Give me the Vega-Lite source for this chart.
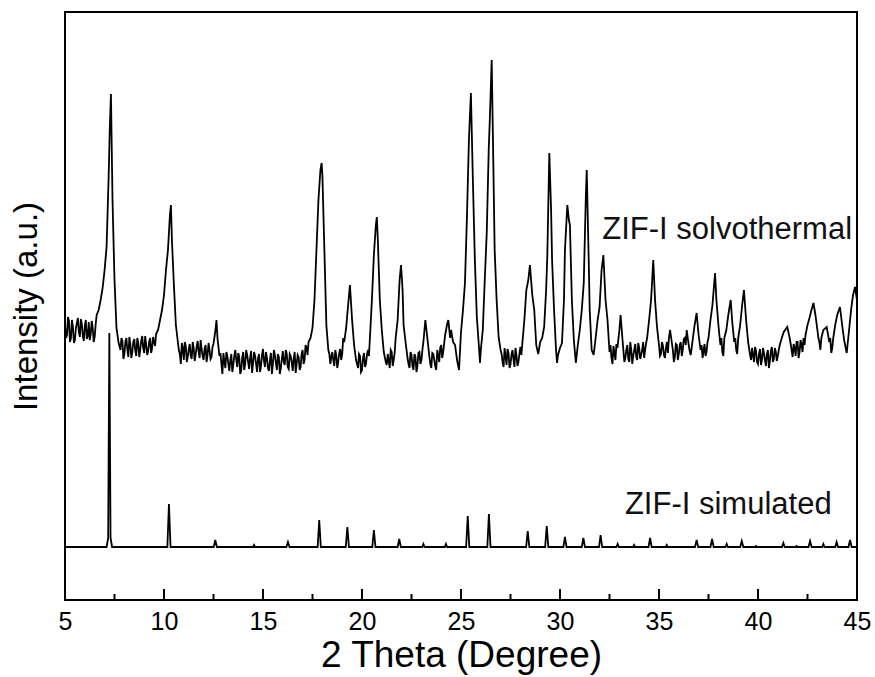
{
  "$schema": "https://vega.github.io/schema/vega-lite/v6.json",
  "width": 792,
  "height": 588,
  "autosize": {"type": "none"},
  "padding": {"left": 65, "top": 12, "right": 18, "bottom": 77},
  "background": "white",
  "config": {
    "font": "Liberation Sans",
    "view": {"stroke": "black", "strokeWidth": 2}
  },
  "datasets": {
    "xrd": [
      {"x":5.0,"y":276,"s":"e"},{"x":5.05,"y":262,"s":"e"},{"x":5.1,"y":265,"s":"e"},{"x":5.15,"y":283,"s":"e"},{"x":5.2,"y":279,"s":"e"},{"x":5.25,"y":258,"s":"e"},{"x":5.3,"y":262,"s":"e"},{"x":5.35,"y":280,"s":"e"},{"x":5.4,"y":273,"s":"e"},{"x":5.45,"y":257,"s":"e"},
      {"x":5.5,"y":260,"s":"e"},{"x":5.55,"y":272,"s":"e"},{"x":5.6,"y":277,"s":"e"},{"x":5.65,"y":282,"s":"e"},{"x":5.7,"y":268,"s":"e"},{"x":5.75,"y":263,"s":"e"},{"x":5.8,"y":281,"s":"e"},{"x":5.85,"y":276,"s":"e"},{"x":5.9,"y":264,"s":"e"},{"x":5.95,"y":259,"s":"e"},
      {"x":6.0,"y":274,"s":"e"},{"x":6.05,"y":280,"s":"e"},{"x":6.1,"y":261,"s":"e"},{"x":6.15,"y":264,"s":"e"},{"x":6.2,"y":278,"s":"e"},{"x":6.25,"y":260,"s":"e"},{"x":6.3,"y":266,"s":"e"},{"x":6.35,"y":279,"s":"e"},{"x":6.4,"y":272,"s":"e"},{"x":6.45,"y":258,"s":"e"},
      {"x":6.5,"y":263,"s":"e"},{"x":6.55,"y":276,"s":"e"},{"x":6.6,"y":285,"s":"e"},{"x":6.7,"y":290,"s":"e"},{"x":6.8,"y":300,"s":"e"},{"x":6.9,"y":312,"s":"e"},
      {"x":7.0,"y":330,"s":"e"},{"x":7.1,"y":353,"s":"e"},{"x":7.2,"y":420,"s":"e"},{"x":7.26,"y":470,"s":"e"},{"x":7.32,"y":506,"s":"e"},
      {"x":7.4,"y":400,"s":"e"},{"x":7.5,"y":320,"s":"e"},{"x":7.6,"y":272,"s":"e"},{"x":7.7,"y":258,"s":"e"},{"x":7.8,"y":250,"s":"e"},
      {"x":7.85,"y":262,"s":"e"},{"x":7.9,"y":259,"s":"e"},{"x":7.95,"y":241,"s":"e"},{"x":8.0,"y":246,"s":"e"},{"x":8.05,"y":258,"s":"e"},{"x":8.1,"y":262,"s":"e"},{"x":8.15,"y":250,"s":"e"},{"x":8.2,"y":243,"s":"e"},{"x":8.25,"y":263,"s":"e"},{"x":8.3,"y":256,"s":"e"},{"x":8.35,"y":242,"s":"e"},
      {"x":8.4,"y":248,"s":"e"},{"x":8.45,"y":258,"s":"e"},{"x":8.5,"y":261,"s":"e"},{"x":8.55,"y":249,"s":"e"},{"x":8.6,"y":244,"s":"e"},{"x":8.65,"y":262,"s":"e"},{"x":8.7,"y":257,"s":"e"},{"x":8.75,"y":243,"s":"e"},{"x":8.8,"y":250,"s":"e"},
      {"x":8.85,"y":259,"s":"e"},{"x":8.9,"y":264,"s":"e"},{"x":8.95,"y":252,"s":"e"},{"x":9.0,"y":247,"s":"e"},{"x":9.05,"y":264,"s":"e"},{"x":9.1,"y":255,"s":"e"},{"x":9.15,"y":245,"s":"e"},{"x":9.2,"y":249,"s":"e"},{"x":9.25,"y":258,"s":"e"},{"x":9.3,"y":262,"s":"e"},
      {"x":9.35,"y":247,"s":"e"},{"x":9.4,"y":252,"s":"e"},{"x":9.45,"y":263,"s":"e"},{"x":9.5,"y":258,"s":"e"},{"x":9.55,"y":254,"s":"e"},{"x":9.6,"y":266,"s":"e"},{"x":9.7,"y":270,"s":"e"},{"x":9.8,"y":280,"s":"e"},
      {"x":9.9,"y":290,"s":"e"},{"x":10.0,"y":305,"s":"e"},{"x":10.1,"y":330,"s":"e"},{"x":10.2,"y":350,"s":"e"},{"x":10.3,"y":385,"s":"e"},
      {"x":10.35,"y":395,"s":"e"},{"x":10.4,"y":360,"s":"e"},{"x":10.5,"y":315,"s":"e"},{"x":10.6,"y":275,"s":"e"},{"x":10.7,"y":258,"s":"e"},
      {"x":10.75,"y":250,"s":"e"},{"x":10.8,"y":246,"s":"e"},{"x":10.85,"y":236,"s":"e"},{"x":10.9,"y":257,"s":"e"},{"x":10.95,"y":252,"s":"e"},{"x":11.0,"y":240,"s":"e"},{"x":11.05,"y":258,"s":"e"},{"x":11.1,"y":254,"s":"e"},{"x":11.15,"y":238,"s":"e"},{"x":11.2,"y":243,"s":"e"},
      {"x":11.25,"y":251,"s":"e"},{"x":11.3,"y":256,"s":"e"},{"x":11.35,"y":244,"s":"e"},{"x":11.4,"y":241,"s":"e"},{"x":11.45,"y":258,"s":"e"},{"x":11.5,"y":252,"s":"e"},{"x":11.55,"y":239,"s":"e"},{"x":11.6,"y":246,"s":"e"},{"x":11.65,"y":253,"s":"e"},{"x":11.7,"y":259,"s":"e"},
      {"x":11.75,"y":248,"s":"e"},{"x":11.8,"y":242,"s":"e"},{"x":11.85,"y":260,"s":"e"},{"x":11.9,"y":251,"s":"e"},{"x":11.95,"y":244,"s":"e"},{"x":12.0,"y":240,"s":"e"},{"x":12.05,"y":251,"s":"e"},{"x":12.1,"y":255,"s":"e"},{"x":12.15,"y":238,"s":"e"},{"x":12.2,"y":245,"s":"e"},
      {"x":12.25,"y":257,"s":"e"},{"x":12.3,"y":250,"s":"e"},{"x":12.35,"y":241,"s":"e"},{"x":12.4,"y":243,"s":"e"},{"x":12.45,"y":253,"s":"e"},{"x":12.5,"y":256,"s":"e"},{"x":12.6,"y":270,"s":"e"},{"x":12.65,"y":280,"s":"e"},
      {"x":12.7,"y":262,"s":"e"},{"x":12.8,"y":244,"s":"e"},{"x":12.85,"y":247,"s":"e"},{"x":12.9,"y":236,"s":"e"},{"x":12.95,"y":226,"s":"e"},{"x":13.0,"y":247,"s":"e"},{"x":13.05,"y":238,"s":"e"},{"x":13.1,"y":232,"s":"e"},
      {"x":13.15,"y":248,"s":"e"},{"x":13.2,"y":244,"s":"e"},{"x":13.25,"y":236,"s":"e"},{"x":13.3,"y":229,"s":"e"},{"x":13.35,"y":240,"s":"e"},{"x":13.4,"y":246,"s":"e"},{"x":13.45,"y":228,"s":"e"},{"x":13.5,"y":235,"s":"e"},{"x":13.55,"y":244,"s":"e"},{"x":13.6,"y":250,"s":"e"},
      {"x":13.65,"y":240,"s":"e"},{"x":13.7,"y":233,"s":"e"},{"x":13.75,"y":247,"s":"e"},{"x":13.8,"y":243,"s":"e"},{"x":13.85,"y":226,"s":"e"},{"x":13.9,"y":230,"s":"e"},{"x":13.95,"y":242,"s":"e"},{"x":14.0,"y":248,"s":"e"},{"x":14.05,"y":230,"s":"e"},{"x":14.1,"y":236,"s":"e"},
      {"x":14.15,"y":250,"s":"e"},{"x":14.2,"y":245,"s":"e"},{"x":14.25,"y":238,"s":"e"},{"x":14.3,"y":231,"s":"e"},{"x":14.35,"y":242,"s":"e"},{"x":14.4,"y":249,"s":"e"},{"x":14.45,"y":227,"s":"e"},{"x":14.5,"y":237,"s":"e"},{"x":14.55,"y":248,"s":"e"},{"x":14.6,"y":244,"s":"e"},
      {"x":14.65,"y":236,"s":"e"},{"x":14.7,"y":228,"s":"e"},{"x":14.75,"y":242,"s":"e"},{"x":14.8,"y":246,"s":"e"},{"x":14.85,"y":228,"s":"e"},{"x":14.9,"y":234,"s":"e"},{"x":14.95,"y":245,"s":"e"},{"x":15.0,"y":251,"s":"e"},{"x":15.05,"y":239,"s":"e"},{"x":15.1,"y":233,"s":"e"},
      {"x":15.15,"y":248,"s":"e"},{"x":15.2,"y":242,"s":"e"},{"x":15.25,"y":232,"s":"e"},{"x":15.3,"y":229,"s":"e"},{"x":15.35,"y":240,"s":"e"},{"x":15.4,"y":247,"s":"e"},{"x":15.45,"y":226,"s":"e"},{"x":15.5,"y":236,"s":"e"},{"x":15.55,"y":250,"s":"e"},{"x":15.6,"y":245,"s":"e"},
      {"x":15.65,"y":237,"s":"e"},{"x":15.7,"y":230,"s":"e"},{"x":15.75,"y":246,"s":"e"},{"x":15.8,"y":243,"s":"e"},{"x":15.85,"y":226,"s":"e"},{"x":15.9,"y":232,"s":"e"},{"x":15.95,"y":241,"s":"e"},{"x":16.0,"y":249,"s":"e"},{"x":16.05,"y":238,"s":"e"},{"x":16.1,"y":235,"s":"e"},
      {"x":16.15,"y":250,"s":"e"},{"x":16.2,"y":246,"s":"e"},{"x":16.25,"y":233,"s":"e"},{"x":16.3,"y":231,"s":"e"},{"x":16.35,"y":246,"s":"e"},{"x":16.4,"y":244,"s":"e"},{"x":16.45,"y":238,"s":"e"},{"x":16.5,"y":229,"s":"e"},{"x":16.55,"y":241,"s":"e"},{"x":16.6,"y":248,"s":"e"},
      {"x":16.65,"y":227,"s":"e"},{"x":16.7,"y":236,"s":"e"},{"x":16.75,"y":245,"s":"e"},{"x":16.8,"y":243,"s":"e"},{"x":16.85,"y":230,"s":"e"},{"x":16.9,"y":233,"s":"e"},{"x":16.95,"y":246,"s":"e"},{"x":17.0,"y":250,"s":"e"},{"x":17.05,"y":236,"s":"e"},{"x":17.1,"y":240,"s":"e"},
      {"x":17.15,"y":255,"s":"e"},{"x":17.2,"y":252,"s":"e"},{"x":17.25,"y":245,"s":"e"},{"x":17.3,"y":258,"s":"e"},{"x":17.4,"y":262,"s":"e"},{"x":17.5,"y":272,"s":"e"},{"x":17.6,"y":300,"s":"e"},
      {"x":17.7,"y":350,"s":"e"},{"x":17.8,"y":400,"s":"e"},{"x":17.9,"y":430,"s":"e"},{"x":17.96,"y":437,"s":"e"},{"x":18.0,"y":425,"s":"e"},
      {"x":18.1,"y":350,"s":"e"},{"x":18.2,"y":275,"s":"e"},{"x":18.3,"y":250,"s":"e"},{"x":18.35,"y":246,"s":"e"},{"x":18.4,"y":236,"s":"e"},{"x":18.45,"y":243,"s":"e"},{"x":18.5,"y":248,"s":"e"},{"x":18.55,"y":240,"s":"e"},
      {"x":18.6,"y":234,"s":"e"},{"x":18.65,"y":250,"s":"e"},{"x":18.7,"y":245,"s":"e"},{"x":18.75,"y":232,"s":"e"},{"x":18.8,"y":238,"s":"e"},{"x":18.85,"y":247,"s":"e"},{"x":18.9,"y":251,"s":"e"},{"x":18.95,"y":240,"s":"e"},{"x":19.0,"y":246,"s":"e"},{"x":19.05,"y":262,"s":"e"},
      {"x":19.1,"y":258,"s":"e"},{"x":19.2,"y":272,"s":"e"},{"x":19.3,"y":295,"s":"e"},{"x":19.39,"y":315,"s":"e"},{"x":19.5,"y":280,"s":"e"},
      {"x":19.6,"y":255,"s":"e"},{"x":19.7,"y":240,"s":"e"},{"x":19.75,"y":236,"s":"e"},{"x":19.8,"y":232,"s":"e"},{"x":19.85,"y":246,"s":"e"},{"x":19.9,"y":244,"s":"e"},{"x":19.95,"y":228,"s":"e"},{"x":20.0,"y":230,"s":"e"},
      {"x":20.05,"y":242,"s":"e"},{"x":20.1,"y":247,"s":"e"},{"x":20.15,"y":233,"s":"e"},{"x":20.2,"y":236,"s":"e"},{"x":20.25,"y":245,"s":"e"},{"x":20.3,"y":250,"s":"e"},{"x":20.35,"y":244,"s":"e"},{"x":20.4,"y":262,"s":"e"},{"x":20.5,"y":300,"s":"e"},
      {"x":20.6,"y":345,"s":"e"},{"x":20.7,"y":375,"s":"e"},{"x":20.75,"y":383,"s":"e"},{"x":20.8,"y":360,"s":"e"},{"x":20.9,"y":300,"s":"e"},
      {"x":21.0,"y":270,"s":"e"},{"x":21.1,"y":248,"s":"e"},{"x":21.2,"y":238,"s":"e"},{"x":21.25,"y":235,"s":"e"},{"x":21.3,"y":246,"s":"e"},{"x":21.35,"y":239,"s":"e"},{"x":21.4,"y":232,"s":"e"},{"x":21.45,"y":250,"s":"e"},
      {"x":21.5,"y":248,"s":"e"},{"x":21.55,"y":234,"s":"e"},{"x":21.6,"y":240,"s":"e"},{"x":21.65,"y":247,"s":"e"},{"x":21.7,"y":262,"s":"e"},{"x":21.8,"y":280,"s":"e"},{"x":21.9,"y":320,"s":"e"},
      {"x":21.97,"y":335,"s":"e"},{"x":22.05,"y":310,"s":"e"},{"x":22.1,"y":275,"s":"e"},{"x":22.2,"y":258,"s":"e"},{"x":22.3,"y":242,"s":"e"},{"x":22.35,"y":236,"s":"e"},
      {"x":22.4,"y":232,"s":"e"},{"x":22.45,"y":248,"s":"e"},{"x":22.5,"y":245,"s":"e"},{"x":22.55,"y":234,"s":"e"},{"x":22.6,"y":230,"s":"e"},{"x":22.65,"y":246,"s":"e"},{"x":22.7,"y":243,"s":"e"},{"x":22.75,"y":228,"s":"e"},{"x":22.8,"y":234,"s":"e"},
      {"x":22.85,"y":247,"s":"e"},{"x":22.9,"y":248,"s":"e"},{"x":22.95,"y":236,"s":"e"},{"x":23.0,"y":240,"s":"e"},{"x":23.05,"y":250,"s":"e"},{"x":23.1,"y":258,"s":"e"},{"x":23.2,"y":280,"s":"e"},{"x":23.3,"y":262,"s":"e"},
      {"x":23.4,"y":244,"s":"e"},{"x":23.45,"y":236,"s":"e"},{"x":23.5,"y":232,"s":"e"},{"x":23.55,"y":247,"s":"e"},{"x":23.6,"y":246,"s":"e"},{"x":23.65,"y":240,"s":"e"},{"x":23.7,"y":234,"s":"e"},{"x":23.75,"y":230,"s":"e"},{"x":23.8,"y":250,"s":"e"},
      {"x":23.85,"y":245,"s":"e"},{"x":23.9,"y":238,"s":"e"},{"x":23.95,"y":252,"s":"e"},{"x":24.0,"y":255,"s":"e"},{"x":24.05,"y":242,"s":"e"},{"x":24.1,"y":248,"s":"e"},{"x":24.2,"y":265,"s":"e"},{"x":24.3,"y":276,"s":"e"},
      {"x":24.36,"y":280,"s":"e"},{"x":24.45,"y":262,"s":"e"},{"x":24.5,"y":270,"s":"e"},{"x":24.6,"y":258,"s":"e"},{"x":24.7,"y":255,"s":"e"},
      {"x":24.8,"y":240,"s":"e"},{"x":24.9,"y":230,"s":"e"},{"x":25.0,"y":268,"s":"e"},{"x":25.1,"y":290,"s":"e"},{"x":25.2,"y":317,"s":"e"},
      {"x":25.3,"y":383,"s":"e"},{"x":25.4,"y":460,"s":"e"},{"x":25.5,"y":507,"s":"e"},{"x":25.6,"y":420,"s":"e"},{"x":25.7,"y":340,"s":"e"},
      {"x":25.8,"y":283,"s":"e"},{"x":25.9,"y":255,"s":"e"},{"x":25.96,"y":237,"s":"e"},{"x":26.0,"y":250,"s":"e"},{"x":26.1,"y":270,"s":"e"},
      {"x":26.2,"y":320,"s":"e"},{"x":26.3,"y":367,"s":"e"},{"x":26.4,"y":450,"s":"e"},{"x":26.46,"y":483,"s":"e"},{"x":26.55,"y":540,"s":"e"},
      {"x":26.63,"y":440,"s":"e"},{"x":26.7,"y":350,"s":"e"},{"x":26.8,"y":300,"s":"e"},{"x":26.9,"y":263,"s":"e"},{"x":27.0,"y":250,"s":"e"},
      {"x":27.05,"y":246,"s":"e"},{"x":27.1,"y":238,"s":"e"},{"x":27.15,"y":233,"s":"e"},{"x":27.2,"y":252,"s":"e"},{"x":27.25,"y":244,"s":"e"},{"x":27.3,"y":235,"s":"e"},{"x":27.35,"y":251,"s":"e"},{"x":27.4,"y":247,"s":"e"},{"x":27.45,"y":232,"s":"e"},{"x":27.5,"y":236,"s":"e"},
      {"x":27.55,"y":245,"s":"e"},{"x":27.6,"y":250,"s":"e"},{"x":27.65,"y":241,"s":"e"},{"x":27.7,"y":233,"s":"e"},{"x":27.75,"y":252,"s":"e"},{"x":27.8,"y":245,"s":"e"},{"x":27.85,"y":234,"s":"e"},{"x":27.9,"y":238,"s":"e"},{"x":27.95,"y":246,"s":"e"},{"x":28.0,"y":253,"s":"e"},
      {"x":28.05,"y":245,"s":"e"},{"x":28.1,"y":257,"s":"e"},{"x":28.2,"y":280,"s":"e"},{"x":28.3,"y":310,"s":"e"},{"x":28.4,"y":320,"s":"e"},{"x":28.48,"y":335,"s":"e"},
      {"x":28.6,"y":305,"s":"e"},{"x":28.7,"y":290,"s":"e"},{"x":28.8,"y":255,"s":"e"},{"x":28.9,"y":246,"s":"e"},{"x":29.0,"y":258,"s":"e"},
      {"x":29.1,"y":262,"s":"e"},{"x":29.2,"y":273,"s":"e"},{"x":29.3,"y":310,"s":"e"},{"x":29.36,"y":345,"s":"e"},{"x":29.46,"y":447,"s":"e"},
      {"x":29.55,"y":390,"s":"e"},{"x":29.6,"y":340,"s":"e"},{"x":29.7,"y":290,"s":"e"},{"x":29.8,"y":250,"s":"e"},{"x":29.85,"y":237,"s":"e"},
      {"x":29.9,"y":245,"s":"e"},{"x":30.0,"y":252,"s":"e"},{"x":30.1,"y":257,"s":"e"},{"x":30.2,"y":300,"s":"e"},{"x":30.25,"y":350,"s":"e"},
      {"x":30.37,"y":395,"s":"e"},{"x":30.45,"y":380,"s":"e"},{"x":30.5,"y":375,"s":"e"},{"x":30.6,"y":300,"s":"e"},{"x":30.7,"y":260,"s":"e"},
      {"x":30.8,"y":237,"s":"e"},{"x":30.9,"y":255,"s":"e"},{"x":31.0,"y":270,"s":"e"},{"x":31.1,"y":290,"s":"e"},{"x":31.2,"y":317,"s":"e"},
      {"x":31.3,"y":400,"s":"e"},{"x":31.35,"y":430,"s":"e"},{"x":31.45,"y":340,"s":"e"},{"x":31.5,"y":290,"s":"e"},{"x":31.55,"y":270,"s":"e"},
      {"x":31.6,"y":250,"s":"e"},{"x":31.7,"y":245,"s":"e"},{"x":31.8,"y":262,"s":"e"},{"x":31.9,"y":280,"s":"e"},{"x":32.0,"y":293,"s":"e"},
      {"x":32.1,"y":330,"s":"e"},{"x":32.19,"y":345,"s":"e"},{"x":32.3,"y":300,"s":"e"},{"x":32.4,"y":280,"s":"e"},{"x":32.5,"y":248,"s":"e"},
      {"x":32.55,"y":255,"s":"e"},{"x":32.6,"y":242,"s":"e"},{"x":32.65,"y":236,"s":"e"},{"x":32.7,"y":254,"s":"e"},{"x":32.75,"y":247,"s":"e"},{"x":32.8,"y":240,"s":"e"},{"x":32.85,"y":256,"s":"e"},{"x":32.9,"y":252,"s":"e"},{"x":33.0,"y":270,"s":"e"},
      {"x":33.06,"y":285,"s":"e"},{"x":33.15,"y":262,"s":"e"},{"x":33.2,"y":250,"s":"e"},{"x":33.25,"y":238,"s":"e"},{"x":33.3,"y":242,"s":"e"},{"x":33.35,"y":250,"s":"e"},{"x":33.4,"y":255,"s":"e"},{"x":33.45,"y":241,"s":"e"},
      {"x":33.5,"y":238,"s":"e"},{"x":33.55,"y":258,"s":"e"},{"x":33.6,"y":250,"s":"e"},{"x":33.65,"y":236,"s":"e"},{"x":33.7,"y":244,"s":"e"},{"x":33.75,"y":250,"s":"e"},{"x":33.8,"y":256,"s":"e"},{"x":33.85,"y":243,"s":"e"},{"x":33.9,"y":240,"s":"e"},
      {"x":33.95,"y":257,"s":"e"},{"x":34.0,"y":252,"s":"e"},{"x":34.05,"y":241,"s":"e"},{"x":34.1,"y":245,"s":"e"},{"x":34.15,"y":250,"s":"e"},{"x":34.2,"y":258,"s":"e"},{"x":34.25,"y":242,"s":"e"},{"x":34.3,"y":250,"s":"e"},{"x":34.35,"y":257,"s":"e"},{"x":34.4,"y":262,"s":"e"},
      {"x":34.5,"y":280,"s":"e"},{"x":34.6,"y":300,"s":"e"},{"x":34.71,"y":340,"s":"e"},{"x":34.8,"y":300,"s":"e"},{"x":34.9,"y":273,"s":"e"},
      {"x":35.0,"y":255,"s":"e"},{"x":35.05,"y":244,"s":"e"},{"x":35.1,"y":246,"s":"e"},{"x":35.15,"y":258,"s":"e"},{"x":35.2,"y":254,"s":"e"},{"x":35.25,"y":245,"s":"e"},{"x":35.3,"y":242,"s":"e"},{"x":35.35,"y":252,"s":"e"},{"x":35.4,"y":258,"s":"e"},{"x":35.45,"y":247,"s":"e"},
      {"x":35.5,"y":262,"s":"e"},{"x":35.56,"y":270,"s":"e"},{"x":35.65,"y":257,"s":"e"},{"x":35.7,"y":250,"s":"e"},{"x":35.75,"y":238,"s":"e"},{"x":35.8,"y":243,"s":"e"},{"x":35.85,"y":256,"s":"e"},{"x":35.9,"y":255,"s":"e"},{"x":35.95,"y":240,"s":"e"},
      {"x":36.0,"y":246,"s":"e"},{"x":36.05,"y":255,"s":"e"},{"x":36.1,"y":258,"s":"e"},{"x":36.15,"y":244,"s":"e"},{"x":36.2,"y":250,"s":"e"},{"x":36.25,"y":261,"s":"e"},{"x":36.3,"y":262,"s":"e"},{"x":36.35,"y":255,"s":"e"},{"x":36.4,"y":270,"s":"e"},
      {"x":36.5,"y":255,"s":"e"},{"x":36.55,"y":249,"s":"e"},{"x":36.6,"y":245,"s":"e"},{"x":36.65,"y":252,"s":"e"},{"x":36.7,"y":260,"s":"e"},{"x":36.8,"y":275,"s":"e"},{"x":36.9,"y":287,"s":"e"},
      {"x":37.0,"y":265,"s":"e"},{"x":37.1,"y":250,"s":"e"},{"x":37.15,"y":255,"s":"e"},{"x":37.2,"y":242,"s":"e"},{"x":37.25,"y":249,"s":"e"},{"x":37.3,"y":256,"s":"e"},{"x":37.35,"y":244,"s":"e"},{"x":37.4,"y":248,"s":"e"},{"x":37.45,"y":258,"s":"e"},
      {"x":37.5,"y":262,"s":"e"},{"x":37.6,"y":280,"s":"e"},{"x":37.7,"y":295,"s":"e"},{"x":37.83,"y":327,"s":"e"},{"x":37.9,"y":300,"s":"e"},
      {"x":38.0,"y":275,"s":"e"},{"x":38.1,"y":255,"s":"e"},{"x":38.15,"y":262,"s":"e"},{"x":38.2,"y":248,"s":"e"},{"x":38.25,"y":244,"s":"e"},{"x":38.3,"y":262,"s":"e"},{"x":38.4,"y":270,"s":"e"},
      {"x":38.5,"y":285,"s":"e"},{"x":38.62,"y":300,"s":"e"},{"x":38.7,"y":278,"s":"e"},{"x":38.8,"y":258,"s":"e"},{"x":38.85,"y":262,"s":"e"},{"x":38.9,"y":250,"s":"e"},{"x":38.95,"y":246,"s":"e"},
      {"x":39.0,"y":262,"s":"e"},{"x":39.1,"y":275,"s":"e"},{"x":39.2,"y":295,"s":"e"},{"x":39.29,"y":310,"s":"e"},{"x":39.4,"y":280,"s":"e"},
      {"x":39.5,"y":258,"s":"e"},{"x":39.6,"y":245,"s":"e"},{"x":39.65,"y":240,"s":"e"},{"x":39.7,"y":252,"s":"e"},{"x":39.75,"y":245,"s":"e"},{"x":39.8,"y":238,"s":"e"},{"x":39.85,"y":253,"s":"e"},{"x":39.9,"y":249,"s":"e"},{"x":39.95,"y":238,"s":"e"},
      {"x":40.0,"y":236,"s":"e"},{"x":40.05,"y":246,"s":"e"},{"x":40.1,"y":251,"s":"e"},{"x":40.15,"y":235,"s":"e"},{"x":40.2,"y":240,"s":"e"},{"x":40.25,"y":252,"s":"e"},{"x":40.3,"y":247,"s":"e"},{"x":40.35,"y":240,"s":"e"},{"x":40.4,"y":234,"s":"e"},
      {"x":40.45,"y":246,"s":"e"},{"x":40.5,"y":250,"s":"e"},{"x":40.55,"y":232,"s":"e"},{"x":40.6,"y":239,"s":"e"},{"x":40.65,"y":249,"s":"e"},{"x":40.7,"y":253,"s":"e"},{"x":40.75,"y":238,"s":"e"},{"x":40.8,"y":241,"s":"e"},{"x":40.85,"y":252,"s":"e"},{"x":40.9,"y":248,"s":"e"},
      {"x":40.95,"y":239,"s":"e"},{"x":41.0,"y":244,"s":"e"},{"x":41.05,"y":250,"s":"e"},{"x":41.1,"y":255,"s":"e"},{"x":41.2,"y":262,"s":"e"},{"x":41.3,"y":268,"s":"e"},{"x":41.48,"y":273,"s":"e"},
      {"x":41.6,"y":262,"s":"e"},{"x":41.7,"y":250,"s":"e"},{"x":41.75,"y":243,"s":"e"},{"x":41.8,"y":256,"s":"e"},{"x":41.85,"y":252,"s":"e"},{"x":41.9,"y":244,"s":"e"},{"x":41.95,"y":258,"s":"e"},{"x":42.0,"y":258,"s":"e"},{"x":42.05,"y":242,"s":"e"},
      {"x":42.1,"y":248,"s":"e"},{"x":42.15,"y":260,"s":"e"},{"x":42.2,"y":255,"s":"e"},{"x":42.25,"y":248,"s":"e"},{"x":42.3,"y":262,"s":"e"},{"x":42.35,"y":255,"s":"e"},{"x":42.4,"y":265,"s":"e"},{"x":42.5,"y":275,"s":"e"},
      {"x":42.6,"y":282,"s":"e"},{"x":42.7,"y":290,"s":"e"},{"x":42.8,"y":297,"s":"e"},{"x":42.9,"y":285,"s":"e"},{"x":43.0,"y":270,"s":"e"},{"x":43.05,"y":262,"s":"e"},
      {"x":43.1,"y":258,"s":"e"},{"x":43.15,"y":250,"s":"e"},{"x":43.2,"y":262,"s":"e"},{"x":43.3,"y":270,"s":"e"},{"x":43.47,"y":273,"s":"e"},{"x":43.6,"y":258,"s":"e"},{"x":43.65,"y":262,"s":"e"},
      {"x":43.7,"y":247,"s":"e"},{"x":43.75,"y":252,"s":"e"},{"x":43.8,"y":262,"s":"e"},{"x":43.9,"y":275,"s":"e"},{"x":44.0,"y":285,"s":"e"},{"x":44.14,"y":293,"s":"e"},
      {"x":44.25,"y":275,"s":"e"},{"x":44.35,"y":260,"s":"e"},{"x":44.48,"y":247,"s":"e"},{"x":44.6,"y":270,"s":"e"},{"x":44.7,"y":290,"s":"e"},
      {"x":44.8,"y":305,"s":"e"},{"x":44.9,"y":313,"s":"e"},{"x":45.0,"y":300,"s":"e"},

      {"x":5.0,"y":53,"s":"c"},{"x":7.1,"y":53,"s":"c"},{"x":7.18,"y":62,"s":"c"},{"x":7.24,"y":267,"s":"c"},{"x":7.3,"y":62,"s":"c"},{"x":7.38,"y":53,"s":"c"},
      {"x":10.17,"y":53,"s":"c"},{"x":10.25,"y":96,"s":"c"},{"x":10.33,"y":53,"s":"c"},
      {"x":12.51,"y":53,"s":"c"},{"x":12.59,"y":60,"s":"c"},{"x":12.67,"y":53,"s":"c"},
      {"x":14.5,"y":53,"s":"c"},{"x":14.55,"y":55,"s":"c"},{"x":14.6,"y":53,"s":"c"},
      {"x":16.18,"y":53,"s":"c"},{"x":16.26,"y":58,"s":"c"},{"x":16.34,"y":53,"s":"c"},
      {"x":17.76,"y":53,"s":"c"},{"x":17.84,"y":80,"s":"c"},{"x":17.92,"y":53,"s":"c"},
      {"x":19.18,"y":53,"s":"c"},{"x":19.26,"y":73,"s":"c"},{"x":19.34,"y":53,"s":"c"},
      {"x":20.52,"y":53,"s":"c"},{"x":20.6,"y":70,"s":"c"},{"x":20.68,"y":53,"s":"c"},
      {"x":21.8,"y":53,"s":"c"},{"x":21.88,"y":61,"s":"c"},{"x":21.96,"y":53,"s":"c"},
      {"x":23.04,"y":53,"s":"c"},{"x":23.1,"y":56,"s":"c"},{"x":23.16,"y":53,"s":"c"},
      {"x":24.18,"y":53,"s":"c"},{"x":24.24,"y":56,"s":"c"},{"x":24.3,"y":53,"s":"c"},
      {"x":25.26,"y":53,"s":"c"},{"x":25.34,"y":84,"s":"c"},{"x":25.42,"y":53,"s":"c"},
      {"x":26.33,"y":53,"s":"c"},{"x":26.41,"y":86,"s":"c"},{"x":26.49,"y":53,"s":"c"},
      {"x":28.29,"y":53,"s":"c"},{"x":28.37,"y":69,"s":"c"},{"x":28.45,"y":53,"s":"c"},
      {"x":29.25,"y":53,"s":"c"},{"x":29.33,"y":74,"s":"c"},{"x":29.41,"y":53,"s":"c"},
      {"x":30.17,"y":53,"s":"c"},{"x":30.25,"y":63,"s":"c"},{"x":30.33,"y":53,"s":"c"},
      {"x":31.1,"y":53,"s":"c"},{"x":31.18,"y":62,"s":"c"},{"x":31.26,"y":53,"s":"c"},
      {"x":31.97,"y":53,"s":"c"},{"x":32.05,"y":65,"s":"c"},{"x":32.13,"y":53,"s":"c"},
      {"x":32.85,"y":53,"s":"c"},{"x":32.91,"y":56,"s":"c"},{"x":32.97,"y":53,"s":"c"},
      {"x":33.69,"y":53,"s":"c"},{"x":33.74,"y":55,"s":"c"},{"x":33.79,"y":53,"s":"c"},
      {"x":34.47,"y":53,"s":"c"},{"x":34.55,"y":62,"s":"c"},{"x":34.63,"y":53,"s":"c"},
      {"x":35.34,"y":53,"s":"c"},{"x":35.39,"y":55,"s":"c"},{"x":35.44,"y":53,"s":"c"},
      {"x":36.82,"y":53,"s":"c"},{"x":36.9,"y":60,"s":"c"},{"x":36.98,"y":53,"s":"c"},
      {"x":37.6,"y":53,"s":"c"},{"x":37.68,"y":61,"s":"c"},{"x":37.76,"y":53,"s":"c"},
      {"x":38.36,"y":53,"s":"c"},{"x":38.42,"y":56,"s":"c"},{"x":38.48,"y":53,"s":"c"},
      {"x":39.1,"y":53,"s":"c"},{"x":39.18,"y":59,"s":"c"},{"x":39.26,"y":53,"s":"c"},
      {"x":39.85,"y":53,"s":"c"},{"x":39.9,"y":54,"s":"c"},{"x":39.95,"y":53,"s":"c"},
      {"x":41.21,"y":53,"s":"c"},{"x":41.28,"y":57,"s":"c"},{"x":41.35,"y":53,"s":"c"},
      {"x":41.9,"y":53,"s":"c"},{"x":41.95,"y":54,"s":"c"},{"x":42.0,"y":53,"s":"c"},
      {"x":42.55,"y":53,"s":"c"},{"x":42.63,"y":59,"s":"c"},{"x":42.71,"y":53,"s":"c"},
      {"x":43.24,"y":53,"s":"c"},{"x":43.3,"y":56,"s":"c"},{"x":43.36,"y":53,"s":"c"},
      {"x":43.9,"y":53,"s":"c"},{"x":43.97,"y":58,"s":"c"},{"x":44.04,"y":53,"s":"c"},
      {"x":44.57,"y":53,"s":"c"},{"x":44.65,"y":60,"s":"c"},{"x":44.73,"y":53,"s":"c"},
      {"x":45.0,"y":53,"s":"c"}
    ],
    "majorTicks": [{"t": 10}, {"t": 15}, {"t": 20}, {"t": 25}, {"t": 30}, {"t": 35}, {"t": 40}],
    "minorTicks": [{"t": 7.5}, {"t": 12.5}, {"t": 17.5}, {"t": 22.5}, {"t": 27.5}, {"t": 32.5}, {"t": 37.5}, {"t": 42.5}]
  },
  "layer": [
    {
      "data": {"name": "xrd"},
      "mark": {"type": "line", "color": "black", "strokeWidth": 1.8, "strokeJoin": "miter"},
      "encoding": {
        "x": {
          "field": "x", "type": "quantitative",
          "scale": {"domain": [5, 45], "nice": false, "zero": false},
          "axis": {
            "orient": "bottom",
            "title": "2 Theta (Degree)",
            "titleFontSize": 37, "titleFontWeight": "normal", "titleColor": "black", "titlePadding": 3,
            "labelFontSize": 25, "labelColor": "black", "labelPadding": 9, "labelFlush": false,
            "values": [5, 10, 15, 20, 25, 30, 35, 40, 45],
            "ticks": false, "domain": false, "grid": false, "zindex": 0
          }
        },
        "y": {
          "field": "y", "type": "quantitative",
          "scale": {"domain": [0, 588], "nice": false, "zero": false},
          "axis": {
            "orient": "left",
            "title": "Intensity (a.u.)",
            "titleFontSize": 33, "titleFontWeight": "normal", "titleColor": "black", "titlePadding": 22,
            "labels": false, "ticks": false, "grid": false, "domain": false, "zindex": 0
          }
        },
        "detail": {"field": "s"}
      }
    },
    {
      "data": {"name": "majorTicks"},
      "mark": {"type": "tick", "orient": "vertical", "color": "black", "size": 11, "thickness": 2, "opacity": 1, "zindex": 10},
      "encoding": {
        "x": {"field": "t", "type": "quantitative", "axis": null},
        "y": {"datum": 5.5, "axis": null}
      }
    },
    {
      "data": {"name": "minorTicks"},
      "mark": {"type": "tick", "orient": "vertical", "color": "black", "size": 6, "thickness": 2, "opacity": 1, "zindex": 10},
      "encoding": {
        "x": {"field": "t", "type": "quantitative", "axis": null},
        "y": {"datum": 3, "axis": null}
      }
    },
    {
      "data": {"values": [{"label": "ZIF-I solvothermal"}]},
      "mark": {"type": "text", "align": "right", "baseline": "middle", "fontSize": 31, "color": "#111"},
      "encoding": {
        "x": {"datum": 44.75, "axis": null},
        "y": {"datum": 370, "axis": null},
        "text": {"field": "label"}
      }
    },
    {
      "data": {"values": [{"label": "ZIF-I simulated"}]},
      "mark": {"type": "text", "align": "right", "baseline": "middle", "fontSize": 31, "color": "#111"},
      "encoding": {
        "x": {"datum": 43.72, "axis": null},
        "y": {"datum": 95, "axis": null},
        "text": {"field": "label"}
      }
    }
  ],
  "resolve": {"axis": {"x": "independent", "y": "independent"}}
}
